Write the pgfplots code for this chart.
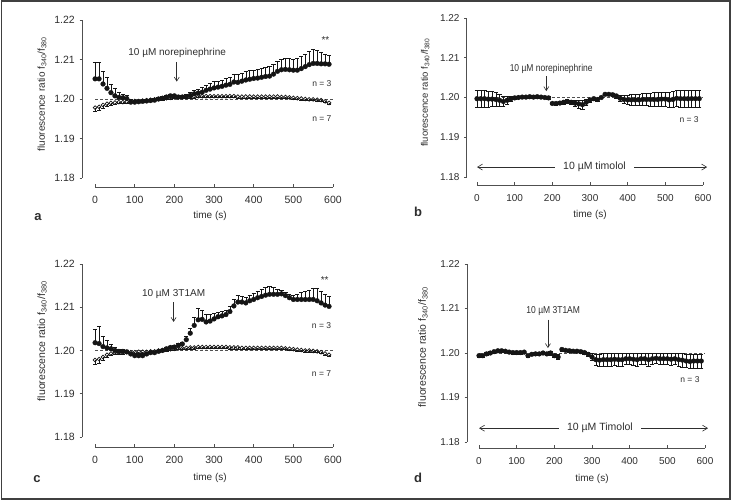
\documentclass[border=0pt]{standalone}
\usepackage{pgfplots}
\pgfplotsset{compat=1.18}
\usepackage{pgfplotstable}
\usepackage{fontspec}
\setmainfont{Liberation Sans}
\usepackage{graphicx}
\usetikzlibrary{arrows.meta}
\definecolor{txt}{HTML}{2e2e2e}
\definecolor{ax}{HTML}{505050}
\definecolor{mk}{HTML}{151515}

% panel a, filled (upper error)
\pgfplotstableread{
t y e
0 1.2051 0.0041
10 1.2051 0.0041
20 1.2038 0.0032
30 1.2027 0.0028
40 1.2016 0.0022
50 1.2008 0.0018
60 1.2004 0.0012
70 1.2003 0.0010
80 1.2001 0.0008
90 1.1992 0.0007
100 1.1992 0.0006
110 1.1993 0.0005
120 1.1994 0.0005
130 1.1995 0.0005
140 1.1996 0.0004
150 1.1997 0.0004
160 1.2000 0.0004
170 1.2002 0.0004
180 1.2005 0.0004
190 1.2008 0.0004
200 1.2008 0.0004
210 1.2005 0.0004
220 1.2005 0.0005
230 1.2006 0.0006
240 1.2009 0.0007
250 1.2013 0.0008
260 1.2015 0.0010
270 1.2017 0.0012
280 1.2022 0.0014
290 1.2025 0.0015
300 1.2028 0.0016
310 1.2030 0.0016
320 1.2032 0.0016
330 1.2035 0.0017
340 1.2037 0.0018
350 1.2043 0.0019
360 1.2042 0.0020
370 1.2045 0.0021
380 1.2048 0.0021
390 1.2050 0.0022
400 1.2052 0.0022
410 1.2053 0.0022
420 1.2055 0.0023
430 1.2057 0.0023
440 1.2058 0.0024
450 1.2063 0.0025
460 1.2070 0.0026
470 1.2074 0.0027
480 1.2075 0.0027
490 1.2074 0.0028
500 1.2073 0.0028
510 1.2073 0.0029
520 1.2077 0.0030
530 1.2082 0.0031
540 1.2087 0.0033
550 1.2090 0.0035
560 1.2090 0.0034
570 1.2089 0.0030
580 1.2089 0.0025
590 1.2088 0.0023
}\aFill

% panel a, open (lower error)
\pgfplotstableread{
t y e
0 1.1978 0.0010
10 1.1980 0.0009
20 1.1985 0.0008
30 1.1988 0.0006
40 1.1990 0.0005
50 1.1991 0.0004
60 1.1992 0.0003
70 1.1992 0.0003
80 1.1993 0.0003
90 1.1994 0.0003
100 1.1995 0.0003
110 1.1995 0.0003
120 1.1996 0.0003
130 1.1997 0.0003
140 1.1998 0.0003
150 1.1999 0.0003
160 1.2000 0.0003
170 1.2001 0.0003
180 1.2002 0.0003
190 1.2003 0.0003
200 1.2004 0.0003
210 1.2004 0.0003
220 1.2005 0.0003
230 1.2005 0.0003
240 1.2006 0.0003
250 1.2006 0.0003
260 1.2007 0.0003
270 1.2007 0.0003
280 1.2007 0.0003
290 1.2007 0.0003
300 1.2007 0.0003
310 1.2007 0.0003
320 1.2007 0.0003
330 1.2007 0.0003
340 1.2007 0.0003
350 1.2007 0.0003
360 1.2006 0.0003
370 1.2006 0.0003
380 1.2006 0.0003
390 1.2006 0.0003
400 1.2006 0.0003
410 1.2006 0.0003
420 1.2006 0.0003
430 1.2006 0.0003
440 1.2006 0.0003
450 1.2006 0.0003
460 1.2006 0.0003
470 1.2005 0.0003
480 1.2005 0.0003
490 1.2004 0.0003
500 1.2003 0.0003
510 1.2002 0.0003
520 1.2001 0.0003
530 1.2000 0.0003
540 1.1999 0.0003
550 1.1999 0.0003
560 1.1998 0.0003
570 1.1997 0.0003
580 1.1994 0.0003
590 1.1990 0.0004
}\aOpen

% panel b, filled (both)
\pgfplotstableread{
t y e
0 1.1997 0.0022
10 1.1997 0.0022
20 1.1997 0.0021
30 1.1996 0.0020
40 1.1996 0.0019
50 1.1995 0.0018
60 1.1993 0.0015
70 1.1990 0.0012
80 1.1993 0.0010
90 1.1997 0.0007
100 1.1999 0.0004
110 1.2000 0.0003
120 1.2001 0.0003
130 1.2001 0.0003
140 1.2002 0.0003
150 1.2001 0.0003
160 1.2002 0.0003
170 1.2001 0.0003
180 1.2000 0.0003
190 1.1999 0.0003
200 1.1985 0.0003
210 1.1985 0.0004
220 1.1986 0.0004
230 1.1988 0.0004
240 1.1990 0.0005
250 1.1988 0.0006
260 1.1986 0.0008
270 1.1984 0.0010
280 1.1982 0.0011
290 1.1988 0.0008
300 1.1994 0.0005
310 1.1997 0.0004
320 1.1995 0.0004
330 1.2000 0.0003
340 1.2008 0.0003
350 1.2008 0.0003
360 1.2007 0.0003
370 1.2004 0.0005
380 1.1998 0.0008
390 1.1995 0.0010
400 1.1994 0.0012
410 1.1994 0.0013
420 1.1994 0.0014
430 1.1994 0.0014
440 1.1995 0.0015
450 1.1995 0.0015
460 1.1995 0.0016
470 1.1995 0.0017
480 1.1995 0.0017
490 1.1996 0.0018
500 1.1996 0.0018
510 1.1994 0.0019
520 1.1995 0.0020
530 1.1998 0.0021
540 1.1997 0.0021
550 1.1997 0.0022
560 1.1997 0.0022
570 1.1997 0.0022
580 1.1997 0.0022
590 1.1997 0.0022
}\bFill

% panel c, filled (upper error)
\pgfplotstableread{
t y e
0 1.2018 0.0032
10 1.2016 0.0039
20 1.2009 0.0025
30 1.2006 0.0017
40 1.2004 0.0010
50 1.2000 0.0008
60 1.1998 0.0006
70 1.1998 0.0005
80 1.1997 0.0004
90 1.1992 0.0004
100 1.1988 0.0004
110 1.1988 0.0004
120 1.1988 0.0004
130 1.1992 0.0004
140 1.1995 0.0003
150 1.1995 0.0003
160 1.1998 0.0003
170 1.2000 0.0003
180 1.2004 0.0003
190 1.2007 0.0003
200 1.2008 0.0003
210 1.2012 0.0004
220 1.2015 0.0005
230 1.2025 0.0008
240 1.2040 0.0012
250 1.2058 0.0018
260 1.2071 0.0027
270 1.2072 0.0020
280 1.2066 0.0018
290 1.2068 0.0016
300 1.2073 0.0012
310 1.2078 0.0010
320 1.2080 0.0010
330 1.2083 0.0010
340 1.2090 0.0012
350 1.2103 0.0015
360 1.2112 0.0015
370 1.2112 0.0013
380 1.2110 0.0013
390 1.2115 0.0013
400 1.2118 0.0014
410 1.2122 0.0015
420 1.2125 0.0016
430 1.2128 0.0018
440 1.2130 0.0019
450 1.2130 0.0016
460 1.2130 0.0012
470 1.2131 0.0009
480 1.2127 0.0007
490 1.2122 0.0008
500 1.2118 0.0010
510 1.2118 0.0013
520 1.2118 0.0017
530 1.2118 0.0020
540 1.2118 0.0022
550 1.2118 0.0026
560 1.2115 0.0028
570 1.2110 0.0028
580 1.2105 0.0025
590 1.2102 0.0024
}\cFill

% panel c, open (lower error)
\pgfplotstableread{
t y e
0 1.1978 0.0009
10 1.1980 0.0009
20 1.1985 0.0008
30 1.1990 0.0005
40 1.1993 0.0004
50 1.1995 0.0003
60 1.1995 0.0003
70 1.1995 0.0003
80 1.1996 0.0003
90 1.1996 0.0003
100 1.1996 0.0003
110 1.1997 0.0003
120 1.1997 0.0003
130 1.1997 0.0003
140 1.1998 0.0003
150 1.1998 0.0003
160 1.2000 0.0003
170 1.2001 0.0003
180 1.2002 0.0003
190 1.2003 0.0003
200 1.2004 0.0003
210 1.2005 0.0003
220 1.2005 0.0003
230 1.2006 0.0003
240 1.2007 0.0003
250 1.2007 0.0003
260 1.2008 0.0003
270 1.2008 0.0003
280 1.2008 0.0003
290 1.2008 0.0003
300 1.2008 0.0003
310 1.2008 0.0003
320 1.2008 0.0003
330 1.2008 0.0003
340 1.2007 0.0003
350 1.2007 0.0003
360 1.2007 0.0003
370 1.2006 0.0003
380 1.2006 0.0003
390 1.2006 0.0003
400 1.2006 0.0003
410 1.2006 0.0003
420 1.2006 0.0003
430 1.2006 0.0003
440 1.2006 0.0003
450 1.2006 0.0003
460 1.2006 0.0003
470 1.2006 0.0003
480 1.2005 0.0003
490 1.2004 0.0003
500 1.2003 0.0003
510 1.2002 0.0003
520 1.2001 0.0003
530 1.2000 0.0003
540 1.2000 0.0003
550 1.1999 0.0003
560 1.1998 0.0003
570 1.1996 0.0003
580 1.1993 0.0003
590 1.1990 0.0004
}\cOpen

% panel d, filled (both)
\pgfplotstableread{
t y e
0 1.1994 0.0003
10 1.1994 0.0003
20 1.1998 0.0003
30 1.2000 0.0003
40 1.2003 0.0003
50 1.2005 0.0003
60 1.2005 0.0003
70 1.2004 0.0003
80 1.2002 0.0003
90 1.2001 0.0003
100 1.2001 0.0003
110 1.2001 0.0003
120 1.2002 0.0003
130 1.1994 0.0003
140 1.1997 0.0003
150 1.1998 0.0003
160 1.1998 0.0003
170 1.2000 0.0003
180 1.1998 0.0004
190 1.2000 0.0004
200 1.1994 0.0004
210 1.1991 0.0006
220 1.2008 0.0003
230 1.2006 0.0003
240 1.2005 0.0003
250 1.2004 0.0003
260 1.2004 0.0003
270 1.2003 0.0003
280 1.2001 0.0003
290 1.1997 0.0005
300 1.1991 0.0008
310 1.1985 0.0013
320 1.1984 0.0014
330 1.1985 0.0014
340 1.1985 0.0014
350 1.1985 0.0014
360 1.1986 0.0013
370 1.1985 0.0014
380 1.1985 0.0014
390 1.1987 0.0013
400 1.1987 0.0013
410 1.1986 0.0013
420 1.1985 0.0014
430 1.1987 0.0013
440 1.1987 0.0013
450 1.1985 0.0014
460 1.1987 0.0013
470 1.1988 0.0012
480 1.1987 0.0013
490 1.1987 0.0013
500 1.1987 0.0013
510 1.1986 0.0014
520 1.1987 0.0013
530 1.1985 0.0014
540 1.1984 0.0015
550 1.1982 0.0015
560 1.1981 0.0016
570 1.1982 0.0016
580 1.1982 0.0016
590 1.1982 0.0016
}\dFill

\pgfplotsset{
  panel/.style={
    scale only axis, clip=false,
    axis x line*=bottom, axis y line*=left,
    axis line style={draw=none},
    xmax=600, ymax=1.22,
    xtick={0,100,200,300,400,500,600},
    ytick={1.18,1.19,1.20,1.21,1.22},
    tick align=inside,
    major tick length=2.5pt,
    every tick/.style={ax, line width=0.6pt},
    y tick style={xshift=-2.5pt},
    /pgf/number format/assume math mode=true,
    xticklabel style={text=txt, yshift=-5.5pt},
    yticklabel style={text=txt, xshift=-3.7pt,
      /pgf/number format/.cd, fixed, fixed zerofill, precision=2},
    every axis y label/.style={rotate=90, anchor=center, text=txt},
    every axis x label/.style={anchor=center, text=txt, font=\fontsize{10}{12}\selectfont},
  },
  dashedline/.style={ax, line width=0.6pt, dash pattern=on 3pt off 2pt, forget plot},
  filledser/.style={only marks, mark=*, mark size=2.4pt, color=mk,
    mark options={fill=mk, draw=mk, line width=0.3pt}},
  openser/.style={only marks, mark=o, mark size=1.9pt, color=mk,
    mark options={draw=mk, fill=white, line width=0.7pt}},
  ebar/.style={error bars/.cd, y dir=#1, y explicit,
    error bar style={line width=0.5pt, mk},
    error mark options={line width=0.5pt, mk, mark size=2.1pt, rotate=90}},
}
\tikzset{
  dnarrow/.style={txt, line width=0.6pt, -{Straight Barb[length=4pt,width=5pt]}},
  dblarrow/.style={txt, line width=0.6pt,
    {Straight Barb[length=5pt,width=6pt]}-{Straight Barb[length=5pt,width=6pt]}},
}

\begin{document}
\begin{tikzpicture}[x=1pt,y=1pt]
\useasboundingbox (0,0) rectangle (735,502);
\draw[black!75, line width=1.2pt] (1.5,3) rectangle (730,501);

% ---------------- panel a ----------------
\begin{axis}[panel, at={(82pt,315pt)}, anchor=south west,
  width=251pt, height=167pt, xmin=-33, ymin=1.17772,
  ticklabel style={font=\fontsize{10.5}{12}\selectfont},
  ylabel={\fontsize{10}{12}\selectfont fluorescence ratio f\textsubscript{340}/f\textsubscript{380}},
  ylabel style={at={(axis description cs:-0.159,0.557)}},
  xlabel={time (s)},
  xlabel style={at={(axis description cs:0.51,-0.174)}}]
\draw[ax, line width=0.7pt] (axis cs:-33,1.18) -- (axis cs:-33,1.22);
\draw[ax, line width=0.7pt] (axis cs:0,1.17772) -- (axis cs:600,1.17772);
\addplot[dashedline] coordinates {(0,1.2) (600,1.2)};
\addplot[openser, ebar=minus] table[x=t, y=y, y error=e] {\aOpen};
\addplot[filledser, ebar=plus] table[x=t, y=y, y error=e] {\aFill};
\node[text=txt, font=\fontsize{10}{12}\selectfont] at (axis cs:207,1.2116) {10 µM norepinephrine};
\draw[dnarrow] (axis cs:206,1.2094) -- (axis cs:206,1.2044);
\node[text=txt, font=\fontsize{10}{12}\selectfont] at (axis cs:581,1.2148) {**};
\node[text=txt, font=\fontsize{8.5}{10}\selectfont] at (axis cs:572,1.2038) {n = 3};
\node[text=txt, font=\fontsize{8.5}{10}\selectfont] at (axis cs:572,1.1951) {n = 7};
\end{axis}

% ---------------- panel b ----------------
\begin{axis}[panel, at={(466.7pt,317pt)}, anchor=south west,
  width=236.3pt, height=167pt, xmin=-27.3, ymin=1.17799,
  ticklabel style={font=\fontsize{10}{12}\selectfont},
  ylabel={\fontsize{9.5}{12}\selectfont fluorescence ratio f\textsubscript{340}/f\textsubscript{380}},
  ylabel style={at={(axis description cs:-0.176,0.554)}},
  xlabel={time (s)},
  xlabel style={at={(axis description cs:0.522,-0.18)}}]
\draw[ax, line width=0.7pt] (axis cs:-27.3,1.18) -- (axis cs:-27.3,1.22);
\draw[ax, line width=0.7pt] (axis cs:0,1.17799) -- (axis cs:600,1.17799);
\addplot[dashedline] coordinates {(0,1.2) (600,1.2)};
\addplot[filledser, ebar=both] table[x=t, y=y, y error=e] {\bFill};
\node[text=txt] at (axis cs:197,1.2073) {\scalebox{0.85}[1]{\fontsize{10}{12}\selectfont 10 µM norepinephrine}};
\draw[dnarrow] (axis cs:184,1.2053) -- (axis cs:184,1.2016);
\node[text=txt, font=\fontsize{8.5}{10}\selectfont] at (axis cs:563,1.1945) {n = 3};
\draw[dblarrow] (axis cs:0,1.1825) -- (axis cs:611,1.1825);
\node[fill=white, inner xsep=8pt, inner ysep=1pt, text=txt, font=\fontsize{10.5}{12}\selectfont] at (axis cs:312,1.1825) {10 µM timolol};
\end{axis}

% ---------------- panel c ----------------
\begin{axis}[panel, at={(82pt,55pt)}, anchor=south west,
  width=251pt, height=183pt, xmin=-33, ymin=1.17769,
  ticklabel style={font=\fontsize{10.5}{12}\selectfont},
  ylabel={\fontsize{10.5}{12}\selectfont fluorescence ratio f\textsubscript{340}/f\textsubscript{380}},
  ylabel style={at={(axis description cs:-0.159,0.579)}},
  xlabel={time (s)},
  xlabel style={at={(axis description cs:0.51,-0.169)}}]
\draw[ax, line width=0.7pt] (axis cs:-33,1.18) -- (axis cs:-33,1.22);
\draw[ax, line width=0.7pt] (axis cs:0,1.17769) -- (axis cs:600,1.17769);
\addplot[dashedline] coordinates {(0,1.2) (600,1.2)};
\addplot[openser, ebar=minus] table[x=t, y=y, y error=e] {\cOpen};
\addplot[filledser, ebar=plus] table[x=t, y=y, y error=e] {\cFill};
\node[text=txt, font=\fontsize{10}{12}\selectfont] at (axis cs:198,1.2131) {10 µM 3T1AM};
\draw[dnarrow] (axis cs:198,1.2111) -- (axis cs:198,1.2066);
\node[text=txt, font=\fontsize{10}{12}\selectfont] at (axis cs:579,1.2164) {**};
\node[text=txt, font=\fontsize{8.5}{10}\selectfont] at (axis cs:571,1.2057) {n = 3};
\node[text=txt, font=\fontsize{8.5}{10}\selectfont] at (axis cs:571,1.1947) {n = 7};
\end{axis}

% ---------------- panel d ----------------
\begin{axis}[panel, at={(467pt,54pt)}, anchor=south west,
  width=238pt, height=184pt, xmin=-31.9, ymin=1.17865,
  ticklabel style={font=\fontsize{10}{12}\selectfont},
  ylabel={\fontsize{10.5}{12}\selectfont fluorescence ratio f\textsubscript{340}/f\textsubscript{380}},
  ylabel style={at={(axis description cs:-0.185,0.549)}},
  xlabel={time (s)},
  xlabel style={at={(axis description cs:0.525,-0.168)}}]
\draw[ax, line width=0.7pt] (axis cs:-31.9,1.18) -- (axis cs:-31.9,1.22);
\draw[ax, line width=0.7pt] (axis cs:0,1.17865) -- (axis cs:600,1.17865);
\addplot[dashedline] coordinates {(0,1.2) (600,1.2)};
\addplot[filledser, ebar=both] table[x=t, y=y, y error=e] {\dFill};
\node[text=txt] at (axis cs:197,1.2094) {\scalebox{0.85}[1]{\fontsize{10}{12}\selectfont 10 µM 3T1AM}};
\draw[dnarrow] (axis cs:183,1.2075) -- (axis cs:183,1.2011);
\node[text=txt, font=\fontsize{8.5}{10}\selectfont] at (axis cs:560,1.1941) {n = 3};
\draw[dblarrow] (axis cs:0,1.1831) -- (axis cs:608,1.1831);
\node[fill=white, inner xsep=8pt, inner ysep=1pt, text=txt, font=\fontsize{10.5}{12}\selectfont] at (axis cs:321,1.1831) {10 µM Timolol};
\end{axis}

% panel letters
\node[text=txt, font=\fontsize{13}{14}\selectfont\bfseries] at (38,285.3) {a};
\node[text=txt, font=\fontsize{13}{14}\selectfont\bfseries] at (418,290.3) {b};
\node[text=txt, font=\fontsize{13}{14}\selectfont\bfseries] at (37,23) {c};
\node[text=txt, font=\fontsize{13}{14}\selectfont\bfseries] at (418,24) {d};
\end{tikzpicture}
\end{document}
